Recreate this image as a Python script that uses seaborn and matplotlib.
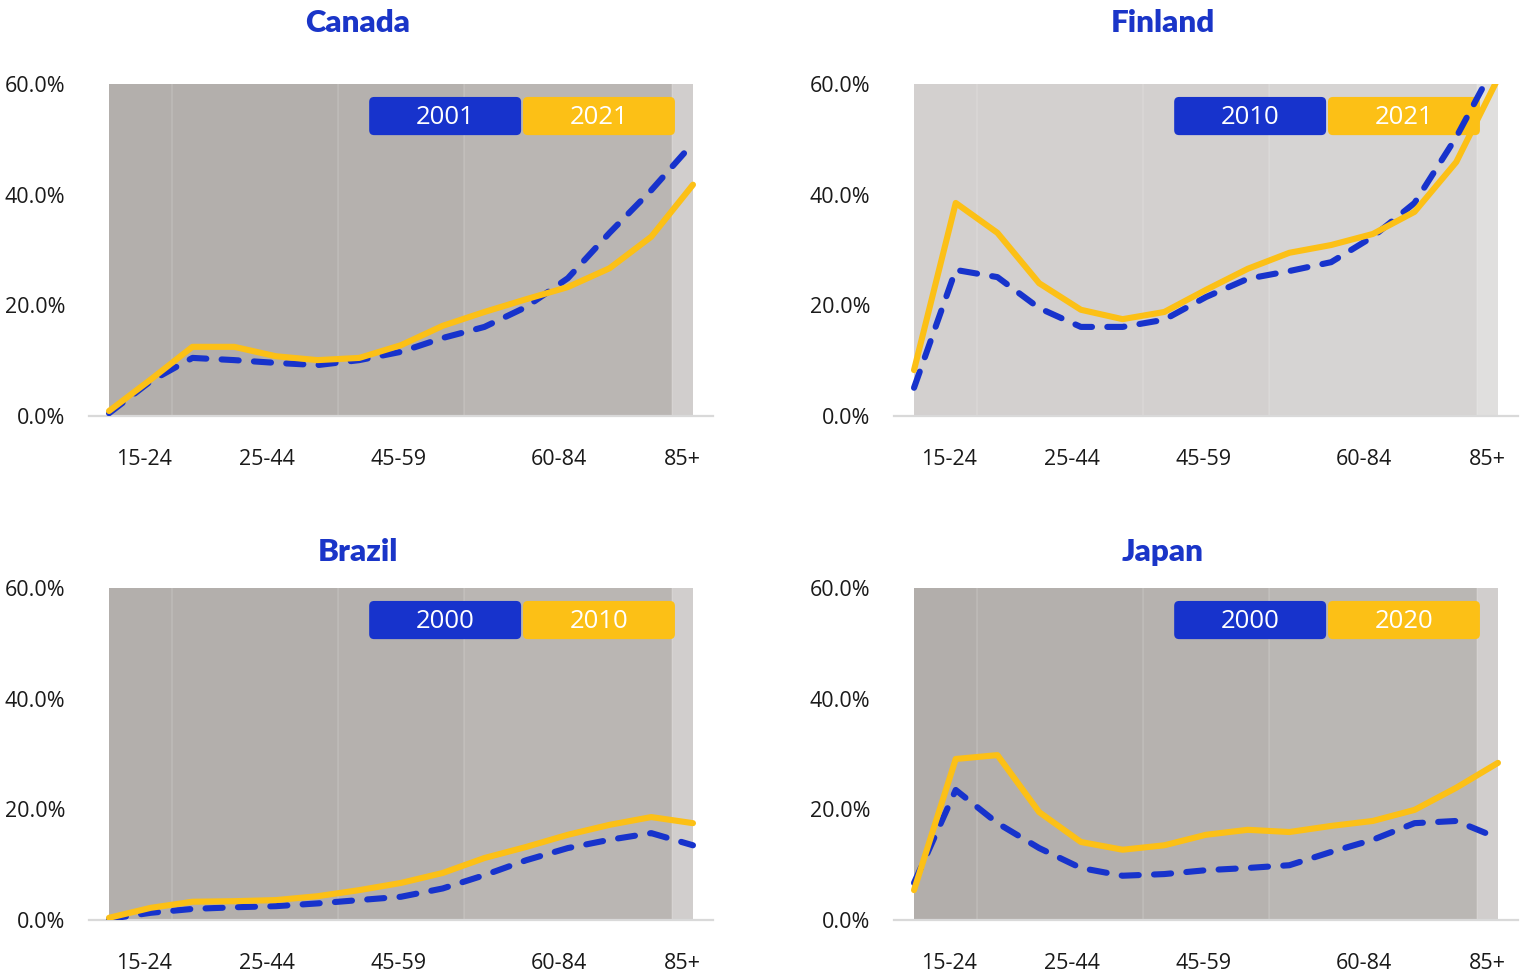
import numpy as np
import pandas as pd
import seaborn as sns
import matplotlib.pyplot as plt
from matplotlib.patches import FancyBboxPatch

# Five-year age groups along the x axis
age_groups = ["15-19", "20-24", "25-29", "30-34", "35-39", "40-44", "45-49",
              "50-54", "55-59", "60-64", "65-69", "70-74", "75-79", "80-84", "85+"]
band_labels = ["15-24", "25-44", "45-59", "60-84", "85+"]
band_sizes = [2, 4, 3, 5, 1]

# Share of people living alone (%) by age group
canada_2001 = [0.5, 6.3, 10.5, 10.1, 9.6, 9.2, 10.1, 11.6, 14.1, 16.1, 19.7, 24.9, 33.1, 40.8, 49.3]
canada_2021 = [0.9, 6.6, 12.5, 12.5, 10.8, 10.1, 10.5, 12.8, 16.3, 18.8, 21.1, 23.3, 26.7, 32.4, 41.8]
finland_2010 = [5.1, 26.4, 25.1, 19.5, 16.1, 16.1, 17.4, 21.5, 24.8, 26.2, 27.8, 32.4, 38.5, 50.4, 64.5]
finland_2021 = [8.3, 38.5, 33.1, 24.0, 19.2, 17.5, 18.8, 22.8, 26.6, 29.5, 30.9, 32.9, 36.9, 45.9, 61.0]
brazil_2000 = [0.2, 1.3, 2.0, 2.3, 2.5, 3.0, 3.6, 4.2, 5.7, 8.1, 10.8, 13.0, 14.5, 15.7, 13.5]
brazil_2010 = [0.4, 2.2, 3.3, 3.4, 3.6, 4.3, 5.4, 6.7, 8.5, 11.2, 13.2, 15.4, 17.2, 18.6, 17.5]
japan_2000 = [6.7, 23.5, 17.5, 13.0, 9.4, 8.0, 8.3, 9.0, 9.4, 9.9, 12.3, 14.5, 17.5, 17.9, 14.8]
japan_2020 = [5.4, 29.1, 29.8, 19.5, 14.1, 12.7, 13.5, 15.4, 16.3, 15.9, 17.0, 17.9, 19.9, 23.9, 28.4]

countries = ["Canada", "Finland", "Brazil", "Japan"]
years = {"Canada": ("2001", "2021"), "Finland": ("2010", "2021"),
         "Brazil": ("2000", "2010"), "Japan": ("2000", "2020")}
series = {"Canada": (canada_2001, canada_2021), "Finland": (finland_2010, finland_2021),
          "Brazil": (brazil_2000, brazil_2010), "Japan": (japan_2000, japan_2020)}

# Background shade of each age band
band_colors = {
    "Canada": ["#b3afac", "#b3afac", "#b5b1ae", "#bab6b3", "#d1cecd"],
    "Finland": ["#d3d0cf", "#d3d0cf", "#d3d0cf", "#d6d4d3", "#e0dfde"],
    "Brazil": ["#b3afac", "#b3afac", "#b5b1ae", "#bab6b3", "#d1cecd"],
    "Japan": ["#b2aeab", "#b4b0ad", "#b6b2af", "#bab7b4", "#d1cecd"],
}

BLUE = "#1733cc"
YELLOW = "#fcc016"
TITLE_BLUE = "#1a35c8"

sns.set_theme(style="white")
plt.rcParams["font.family"] = ["Open Sans", "DejaVu Sans"]

W, H = 1526, 972
fig = plt.figure(figsize=(W / 100, H / 100), dpi=100)

panel_px = {"Canada": (89, 84), "Finland": (894, 84), "Brazil": (89, 588), "Japan": (894, 588)}
title_px = {"Canada": (358, 23), "Finland": (1163, 23), "Brazil": (358, 552), "Japan": (1163, 552)}
AX_W, AX_H = 624, 332

idx = np.arange(len(age_groups))
edges = np.concatenate([[0], np.cumsum(band_sizes)[:-1] - 0.5, [len(age_groups) - 1]])
label_pos = [0.85, 3.78, 6.93, 10.78, 13.74]

for country in countries:
    lx, ty = panel_px[country]
    ax = fig.add_axes([lx / W, 1 - (ty + AX_H) / H, AX_W / W, AX_H / H])
    ax.set_facecolor("white")

    # Age bands
    for (x0, x1), c in zip(zip(edges[:-1], edges[1:]), band_colors[country]):
        ax.axvspan(x0, x1, ymin=0, ymax=1, color=c, lw=0, zorder=0)
    for x in edges[1:-1]:
        ax.axvline(x, color="white", alpha=0.14, lw=1.2, zorder=0.5)

    y_old, y_new = series[country]
    df = pd.DataFrame({"idx": idx, "old": y_old, "new": y_new})

    sns.lineplot(data=df, x="idx", y="old", ax=ax, color=BLUE, linewidth=4.4, zorder=3)
    blue_line = ax.lines[-1]
    blue_line.set_dashes((2.8, 2.5))
    blue_line.set_dash_capstyle("round")
    blue_line.set_solid_joinstyle("round")

    sns.lineplot(data=df, x="idx", y="new", ax=ax, color=YELLOW, linewidth=4.4, zorder=4)
    yl = ax.lines[-1]
    yl.set_solid_capstyle("round")
    yl.set_solid_joinstyle("round")

    ax.set_xlim(-0.48, 14.48)
    ax.set_ylim(0, 60)
    ax.set_xlabel("")
    ax.set_ylabel("")

    ax.set_yticks([0, 20, 40, 60])
    ax.set_yticklabels([f"{v:.1f}%" for v in [0, 20, 40, 60]])
    ax.set_xticks(label_pos)
    ax.set_xticklabels(band_labels)
    ax.tick_params(axis="both", length=0, labelsize=15.5, labelcolor="#1a1a1a")
    ax.tick_params(axis="y", pad=17)
    ax.tick_params(axis="x", pad=24)

    for side in ["left", "right", "top"]:
        ax.spines[side].set_visible(False)
    ax.spines["bottom"].set_color("#d9d9d9")
    ax.spines["bottom"].set_linewidth(1.6)
    ax.spines["bottom"].set_zorder(1)

    # Year key
    y0, yh = 0.846, 0.115
    x0, bw, gap = 0.449, 0.2435, 0.003
    for k, (yr, col) in enumerate(zip(years[country], [BLUE, YELLOW])):
        bx = x0 + k * (bw + gap)
        box = FancyBboxPatch((bx, y0), bw, yh, boxstyle="round,pad=0,rounding_size=0.008",
                             mutation_aspect=AX_W / AX_H, transform=ax.transAxes,
                             facecolor=col, edgecolor="none", zorder=2, clip_on=False)
        ax.add_patch(box)
        ax.text(bx + bw / 2, y0 + yh / 2 + 0.006, yr, transform=ax.transAxes, ha="center",
                va="center_baseline", color="white", fontsize=18.5, zorder=2.5)

    tx, tyy = title_px[country]
    fig.text(tx / W, 1 - tyy / H, country, ha="center", va="center",
             fontsize=22.5, fontweight="heavy", color=TITLE_BLUE,
             family=["Lato", "DejaVu Sans"])

fig.savefig("out.png", dpi=100)
